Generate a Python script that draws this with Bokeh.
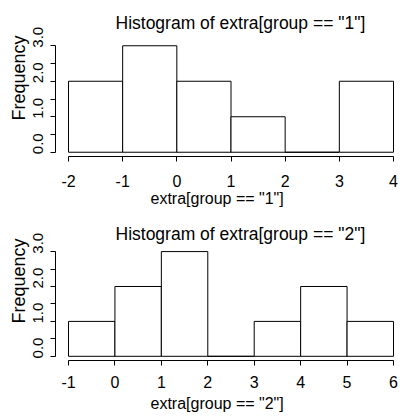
from bokeh.plotting import figure
from bokeh.layouts import column
from bokeh.models import (FixedTicker, PrintfTickFormatter, CustomJSTickFormatter,
                          Range1d, ColumnDataSource, Title, LinearAxis)
from bokeh.embed import file_html
from bokeh.resources import INLINE

# ---- data -------------------------------------------------------------
g1_breaks = [-2, -1, 0, 1, 2, 3, 4]
g1_counts = [2, 3, 2, 1, 0, 2]
g1_xticks = [-2, -1, 0, 1, 2, 3, 4]
g1_title = 'Histogram of extra[group == "1"]'
g1_xlabel = 'extra[group == "1"]'

g2_breaks = [-1, 0, 1, 2, 3, 4, 5, 6]
g2_counts = [1, 2, 3, 0, 1, 2, 1]
g2_xticks = [-1, 0, 1, 2, 3, 4, 5, 6]
g2_title = 'Histogram of extra[group == "2"]'
g2_xlabel = 'extra[group == "2"]'

y_label = "Frequency"
y_major = [0, 1, 2, 3]
y_minor = [0.5, 1.5, 2.5]

FONT = "Liberation Sans"
W = 408
H = 209
BL = 55
BR = 2
SY = 115 / 3.24        # px per count unit
LABEL_SHIFT = 8.5      # y tick labels sit above their ticks (px)


def make_panel(breaks, counts, xticks, title, xlabel, b_top, frame_bottom,
               title_standoff, tick_standoff, xlab_standoff, ylab_offset):
    lo, hi = breaks[0], breaks[-1]
    ext = 0.04 * (hi - lo)
    ytop = max(counts)
    fh = frame_bottom - b_top
    b_bot = H - frame_bottom
    y0 = -0.04 * ytop
    y1 = y0 + fh / SY
    d = LABEL_SHIFT / SY

    p = figure(width=W, height=H, output_backend="svg", toolbar_location=None,
               x_range=Range1d(lo - ext, hi + ext),
               y_range=Range1d(y0, y1),
               min_border_left=BL, min_border_right=BR,
               min_border_top=b_top, min_border_bottom=b_bot,
               background_fill_color="white", border_fill_color="white")
    p.outline_line_color = None
    p.grid.visible = False
    p.extra_y_ranges = {"lab": Range1d(y0 - d, y1 - d)}

    src = ColumnDataSource(dict(left=breaks[:-1], right=breaks[1:],
                                top=counts, bottom=[0] * len(counts)))
    p.quad(left="left", right="right", top="top", bottom="bottom", source=src,
           fill_color="white", line_color="black", line_width=1)

    # main title
    t = Title(text=title, align="left", offset=60, text_font=FONT,
              text_font_size="17.5px", text_font_style="normal",
              text_color="black", standoff=title_standoff)
    p.add_layout(t, "above")

    # x axis
    xa = p.xaxis[0]
    xa.ticker = FixedTicker(ticks=xticks, minor_ticks=[])
    xa.formatter = PrintfTickFormatter(format="%d")
    xa.bounds = (lo, hi)
    xa.axis_line_color = "black"
    xa.major_tick_line_color = "black"
    xa.major_tick_out = 5
    xa.major_tick_in = 0
    xa.minor_tick_line_color = None
    xa.major_label_text_font = FONT
    xa.major_label_text_font_size = "16px"
    xa.major_label_text_color = "black"
    xa.major_label_standoff = tick_standoff

    xl = Title(text=xlabel, align="left", offset=95, vertical_align="top",
               text_font=FONT, text_font_size="16px", text_font_style="normal",
               text_color="black", standoff=xlab_standoff)
    p.add_layout(xl, "below")

    # y axis: line + ticks
    ya = p.yaxis[0]
    ya.ticker = FixedTicker(ticks=y_major, minor_ticks=y_minor)
    ya.formatter = CustomJSTickFormatter(code="return ''")
    ya.bounds = (0, ytop)
    ya.axis_line_color = "black"
    ya.major_tick_line_color = "black"
    ya.major_tick_out = 5
    ya.major_tick_in = 0
    ya.minor_tick_line_color = "black"
    ya.minor_tick_out = 5
    ya.minor_tick_in = 0
    ya.major_label_standoff = 0

    # y tick labels (drawn slightly above the ticks, as in the reference)
    yl_ax = LinearAxis(y_range_name="lab",
                       ticker=FixedTicker(ticks=y_major, minor_ticks=[]),
                       formatter=PrintfTickFormatter(format="%.1f"))
    yl_ax.axis_line_color = None
    yl_ax.major_tick_line_color = None
    yl_ax.minor_tick_line_color = None
    yl_ax.major_tick_out = 0
    yl_ax.major_tick_in = 0
    yl_ax.minor_tick_out = 0
    yl_ax.minor_tick_in = 0
    yl_ax.major_label_orientation = "vertical"
    yl_ax.major_label_text_font = FONT
    yl_ax.major_label_text_font_size = "15px"
    yl_ax.major_label_text_color = "black"
    yl_ax.major_label_standoff = 7
    p.add_layout(yl_ax, "left")

    yl = Title(text=y_label, align="left", offset=ylab_offset, text_font=FONT,
               text_font_size="18px", text_font_style="normal", text_color="black",
               standoff=4)
    p.add_layout(yl, "left")
    return p


p1 = make_panel(g1_breaks, g1_counts, g1_xticks, g1_title, g1_xlabel,
                b_top=36, frame_bottom=156, title_standoff=8, tick_standoff=13,
                xlab_standoff=1, ylab_offset=36)
p2 = make_panel(g2_breaks, g2_counts, g2_xticks, g2_title, g2_xlabel,
                b_top=32, frame_bottom=153, title_standoff=-4, tick_standoff=10,
                xlab_standoff=9, ylab_offset=37)

layout = column(p1, p2, spacing=0)
open("out.html", "w").write(file_html(layout, INLINE))
